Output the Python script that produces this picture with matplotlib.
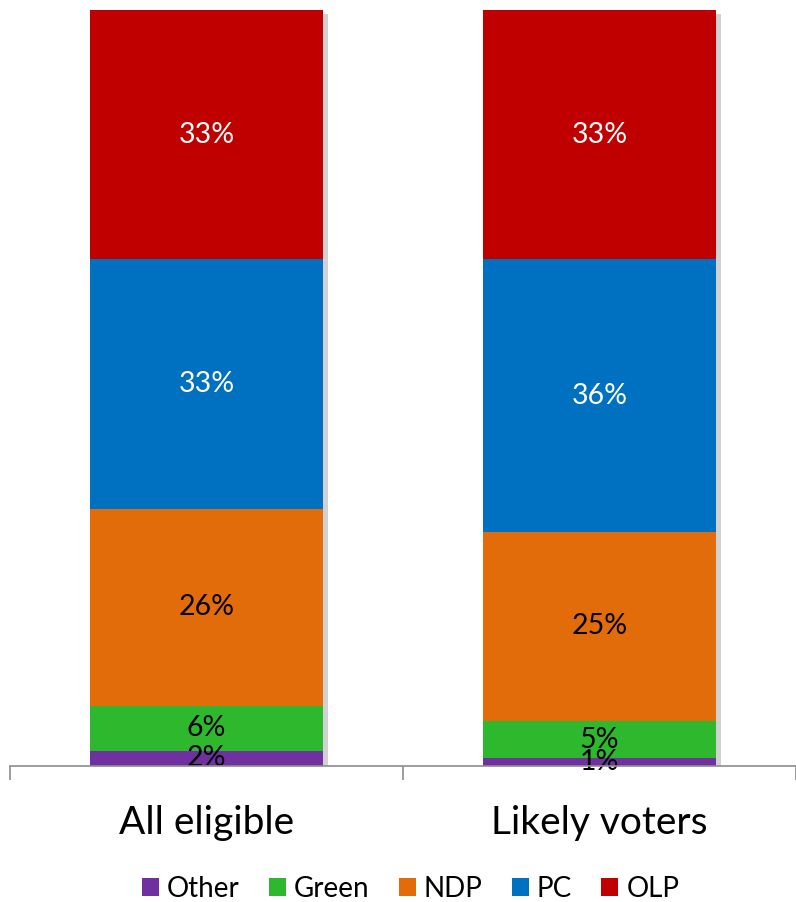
import matplotlib
matplotlib.use("Agg")
import matplotlib.pyplot as plt
from matplotlib.patches import Patch
import matplotlib.patheffects as pe

categories = ["All eligible", "Likely voters"]
parties = ["Other", "Green", "NDP", "PC", "OLP"]
values = {
    "Other": [2, 1],
    "Green": [6, 5],
    "NDP": [26, 25],
    "PC": [33, 36],
    "OLP": [33, 33],
}
colors = {
    "Other": "#7030A0",
    "Green": "#2EB82E",
    "NDP": "#E36C0A",
    "PC": "#0070C0",
    "OLP": "#C00000",
}
text_colors = {"Other": "black", "Green": "black", "NDP": "black", "PC": "white", "OLP": "white"}

plt.rcParams['font.family'] = ['Lato', 'DejaVu Sans']

fig = plt.figure(figsize=(7.96, 9.02), dpi=100)
ax = fig.add_axes([10/796, 1-766/902, 786/796, (766-10)/902])

x = list(range(len(categories)))
width = 0.595
totals = [sum(values[p][i] for p in parties) for i in range(len(categories))]
# shadow backing bar
ax.bar(x, totals, width=width, color="white", zorder=1,
       path_effects=[pe.SimplePatchShadow(offset=(3, -3), shadow_rgbFace='#9a9a9a', alpha=0.45), pe.Normal()])

bottoms = [0.0] * len(categories)
for p in parties:
    ax.bar(x, values[p], bottom=bottoms, width=width, color=colors[p], zorder=2)
    for i, v in enumerate(values[p]):
        ax.text(x[i], bottoms[i] + v / 2, f"{v}%", ha="center", va="center",
                color=text_colors[p], fontsize=20.5, zorder=3)
    bottoms = [b + v for b, v in zip(bottoms, values[p])]

ax.set_xlim(-0.5, 1.5)
ax.set_ylim(0, 100)
for s in ["top", "right", "left"]:
    ax.spines[s].set_visible(False)
ax.spines["bottom"].set_color("#8c8c8c")
ax.spines["bottom"].set_linewidth(1.2)
ax.spines["bottom"].set_zorder(4)
ax.set_yticks([])
ax.set_xticks([-0.5, 0.5, 1.5])
ax.set_xticklabels([])
ax.tick_params(axis="x", direction="out", length=10, width=1.2, color="#8c8c8c")
for i, c in enumerate(categories):
    ax.text(x[i], -7.6, c, ha="center", va="center", fontsize=28, clip_on=False)

handles = [Patch(facecolor=colors[p], edgecolor="none", label=p) for p in parties]
fig.legend(handles=handles, loc="center", bbox_to_anchor=(0.516, 1 - 889/902), ncol=5, frameon=False,
           fontsize=20, handlelength=0.6, handleheight=0.6, handletextpad=0.3, columnspacing=1.05)

fig.savefig("out.png", dpi=100)
